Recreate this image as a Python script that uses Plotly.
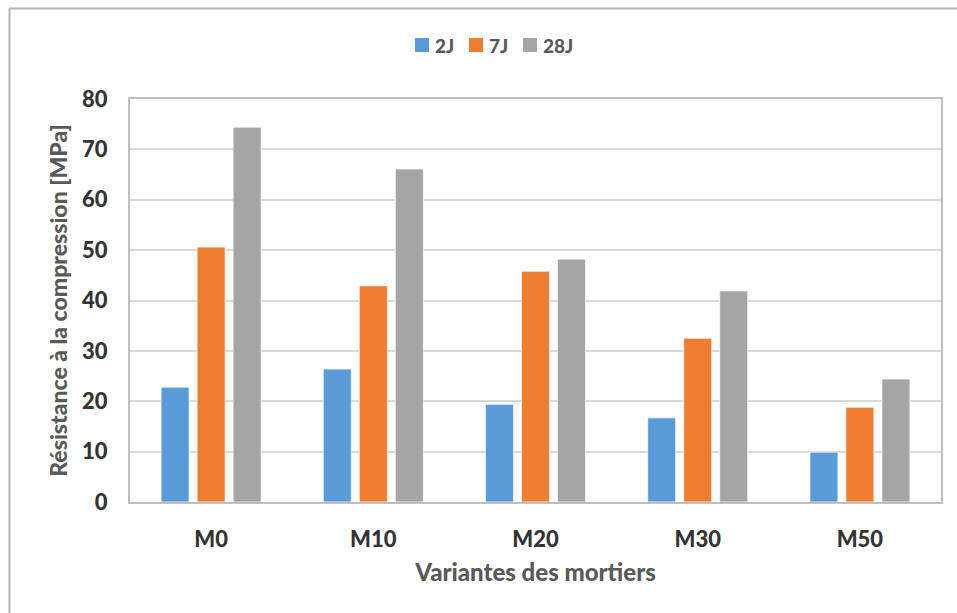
import plotly.graph_objects as go

# Mortar variants and compressive strength (MPa) at 2, 7 and 28 days
categories = ["M0", "M10", "M20", "M30", "M50"]
strength_2j = [22.8, 26.4, 19.4, 16.7, 9.9]
strength_7j = [50.6, 42.9, 45.8, 32.5, 18.8]
strength_28j = [74.4, 66.1, 48.2, 41.9, 24.4]
series_names = ["2J", "7J", "28J"]
series_colors = ["#5B9BD5", "#ED7D31", "#A5A5A5"]
y_ticks = [0, 10, 20, 30, 40, 50, 60, 70, 80]

W, H = 957, 613
L, R, T, B = 130, 16, 99, 111
plot_w = W - L - R
plot_h = H - T - B

font_family = "Lato, 'Open Sans', Arial, sans-serif"
bold = 900

fig = go.Figure()
for name, vals, col in zip(series_names, [strength_2j, strength_7j, strength_28j], series_colors):
    fig.add_trace(go.Bar(
        x=categories, y=vals, name=name, showlegend=False,
        marker=dict(color=col, line=dict(color="rgba(255,255,255,0.7)", width=1)),
    ))


def px_x(px):
    return (px - L) / plot_w


def px_y(py):
    return (H - B - py) / plot_h


# Outer chart frame (top and left edges visible)
frame_col = "#B4B4B4"
fig.add_shape(type="line", xref="paper", yref="paper",
              x0=px_x(9.5), x1=px_x(W + 5), y0=px_y(8.5), y1=px_y(8.5),
              line=dict(color=frame_col, width=2))
fig.add_shape(type="line", xref="paper", yref="paper",
              x0=px_x(9.5), x1=px_x(9.5), y0=px_y(8.5), y1=px_y(H + 5),
              line=dict(color=frame_col, width=2))

# Legend row at the top: square swatch followed by its label
legend_x = [415, 469, 523]
legend_cy = 45
sw = 14
for lx, name, col in zip(legend_x, series_names, series_colors):
    fig.add_shape(type="rect", xref="paper", yref="paper",
                  x0=px_x(lx), x1=px_x(lx + sw),
                  y0=px_y(legend_cy + sw / 2), y1=px_y(legend_cy - sw / 2),
                  fillcolor=col, line=dict(width=0))
    fig.add_annotation(xref="paper", yref="paper", x=px_x(lx + sw + 4), y=px_y(legend_cy),
                       xanchor="left", yanchor="middle", showarrow=False, text=name,
                       font=dict(size=19, color="#595959", weight=bold))

fig.update_layout(
    width=W, height=H,
    margin=dict(l=L, r=R, t=T, b=B),
    paper_bgcolor="white", plot_bgcolor="white",
    barmode="group", bargap=0.334, bargroupgap=0.222,
    font=dict(family=font_family, color="#404040"),
    showlegend=False,
)

fig.update_xaxes(
    showline=True, linecolor="#BFBFBF", linewidth=2, mirror=True,
    showgrid=False, ticks="", ticklabelstandoff=17,
    tickfont=dict(size=22, color="#333333", weight=bold),
    title=dict(text="Variantes des mortiers", standoff=13,
               font=dict(size=24, color="#595959", weight=bold)),
)
fig.update_yaxes(
    range=[0, 80], tickvals=y_ticks,
    showline=True, linecolor="#BFBFBF", linewidth=2, mirror=True,
    showgrid=True, gridcolor="#D9D9D9", gridwidth=2,
    zeroline=False, ticks="", ticklabelstandoff=16,
    tickfont=dict(size=22, color="#333333", weight=bold),
    title=dict(text="Résistance à la compression [MPa]", standoff=8,
               font=dict(size=23, color="#595959", weight=bold)),
)

fig.write_html("out.html")
